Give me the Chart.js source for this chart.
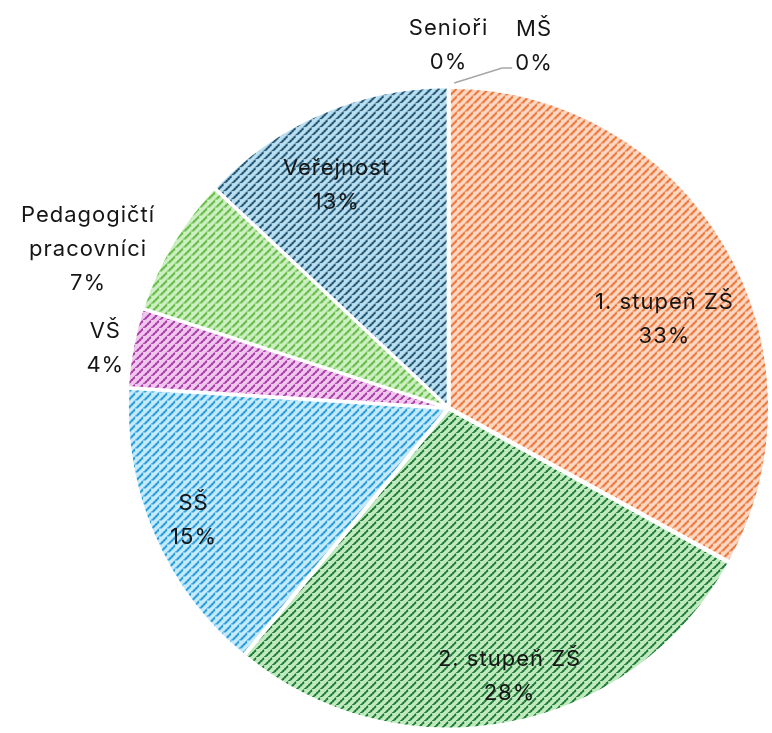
<!DOCTYPE html>
<html>
<head>
<meta charset="utf-8">
<script src="https://cdn.jsdelivr.net/npm/chart.js@4/dist/chart.umd.min.js"></script>
<style>
  body { margin: 0; background: #fff; }
  #wrap { width: 772px; height: 733px; }
</style>
</head>
<body>
<div id="wrap"><canvas id="myChart" width="772" height="733"></canvas></div>
<script>
// data
var categories = ['MŠ', '1. stupeň ZŠ', '2. stupeň ZŠ', 'SŠ', 'VŠ', 'Pedagogičtí pracovníci', 'Veřejnost', 'Senioři'];
var values = [0, 33, 28, 15, 4, 7, 13, 0];

// styles
var lightColors = ['#dddddd', '#fcd8c4', '#bfeabf', '#c6eafa', '#efc6ec', '#cdeec1', '#badff0', '#dddddd'];
var stripeColors = ['#888888', '#ee6c2a', '#1f7a36', '#1b97d8', '#a83aa8', '#5cb83c', '#1c4e6d', '#888888'];
var labelLines = [['MŠ'], ['1. stupeň ZŠ'], ['2. stupeň ZŠ'], ['SŠ'], ['VŠ'], ['Pedagogičtí', 'pracovníci'], ['Veřejnost'], ['Senioři']];
// radial factor and angle shift (deg) for every label
var labelRadius = [1.148, 0.72, 0.85, 0.86, 1.075, 1.215, 0.77, 1.118];
var labelShift = [13.3, 8.4, -2, -0.4, -1, -6.9, -3.3, 0];

function makePattern(bg, fg) {
    var c = document.createElement('canvas');
    c.width = 8;
    c.height = 8;
    var g = c.getContext('2d');
    g.fillStyle = bg;
    g.fillRect(0, 0, 8, 8);
    g.fillStyle = fg;
    for (let i = 0; i < 8; i++) {
        g.globalAlpha = (i % 2 == 0) ? 1 : 0.7;
        g.fillRect(i, 7 - i, 2, 2);
        if (i == 7) g.fillRect(-1, 7, 2, 2);
    }
    g.globalAlpha = 1;
    return g.createPattern(c, 'repeat');
}

var patterns = [];
for (let i = 0; i < values.length; i++) {
    patterns.push(makePattern(lightColors[i], stripeColors[i]));
}

var labelPlugin = {
    id: 'sliceLabels',
    afterDatasetsDraw: function(chart) {
        var ctx = chart.ctx;
        var meta = chart.getDatasetMeta(0);
        var total = values.reduce(function(a, b) { return a + b; }, 0);
        ctx.save();
        ctx.font = '22px Inter, "DejaVu Sans", sans-serif';
        ctx.letterSpacing = '1px';
        ctx.fillStyle = '#161616';
        ctx.textAlign = 'center';
        ctx.textBaseline = 'middle';
        meta.data.forEach(function(arc, i) {
            var p = arc.getProps(['x', 'y', 'startAngle', 'endAngle', 'outerRadius'], true);
            var R = p.outerRadius + 4;
            var mid = (p.startAngle + p.endAngle) / 2 + labelShift[i] * Math.PI / 180;
            var lx = p.x + Math.cos(mid) * R * labelRadius[i];
            var ly = p.y + Math.sin(mid) * R * labelRadius[i];
            var lines = labelLines[i].concat([Math.round(values[i] / total * 100) + '%']);
            var lh = 34;
            var top = ly - (lines.length - 1) * lh / 2;
            lines.forEach(function(t, k) {
                ctx.fillText(t, lx, top + k * lh);
            });
            if (i == 0) {
                // leader line for MŠ
                var a0 = p.startAngle + 1 * Math.PI / 180;
                var sx = p.x + Math.cos(a0) * (R + 1);
                var sy = p.y + Math.sin(a0) * (R + 1);
                var ey = ly + 22;
                ctx.strokeStyle = '#a6a6a6';
                ctx.lineWidth = 1.5;
                ctx.beginPath();
                ctx.moveTo(sx, sy);
                ctx.lineTo(lx - 32, ey);
                ctx.lineTo(lx - 22, ey);
                ctx.stroke();
            }
        });
        ctx.restore();
    }
};

var ctx = document.getElementById('myChart');
var myPieChart = new Chart(ctx, {
    type: 'pie',
    data: {
        labels: categories,
        datasets: [{
            data: values,
            backgroundColor: patterns,
            borderColor: '#ffffff',
            borderWidth: 3,
            offset: 4
        }]
    },
    options: {
        responsive: false,
        animation: false,
        layout: { padding: { left: 125, right: -3, top: 83, bottom: 0 } },
        plugins: {
            legend: { display: false },
            tooltip: { enabled: false }
        }
    },
    plugins: [labelPlugin]
});
</script>
</body>
</html>
